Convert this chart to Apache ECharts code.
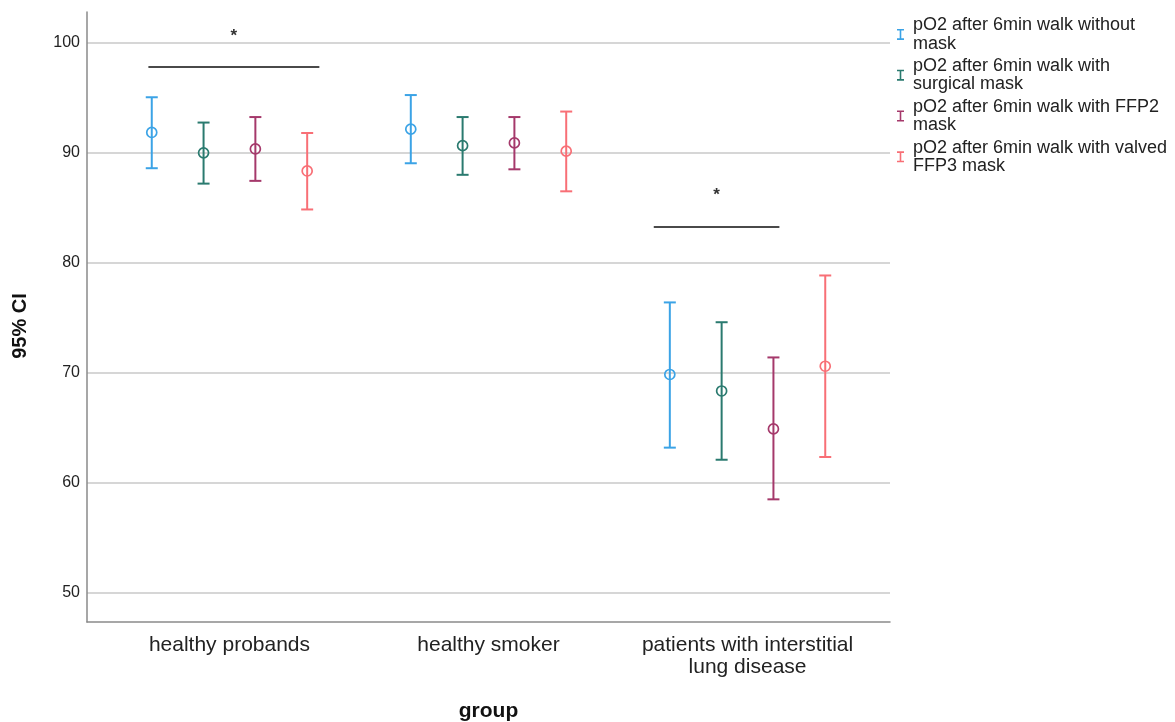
<!DOCTYPE html>
<html>
<head>
<meta charset="utf-8">
<script src="https://cdn.jsdelivr.net/npm/echarts@6/dist/echarts.min.js"></script>
<style>
html,body{margin:0;padding:0;background:#fff;}
#chart{width:1175px;height:722px;}
</style>
</head>
<body>
<div id="chart"></div>
<script>
// ---- data ----
const categories = ['healthy probands', 'healthy smoker', 'patients with interstitial\nlung disease'];
const seriesNames = [
  'pO2 after 6min walk without mask',
  'pO2 after 6min walk with surgical mask',
  'pO2 after 6min walk with FFP2 mask',
  'pO2 after 6min walk with valved FFP3 mask'
];
const legendLabels = [
  'pO2 after 6min walk without\nmask',
  'pO2 after 6min walk with\nsurgical mask',
  'pO2 after 6min walk with FFP2\nmask',
  'pO2 after 6min walk with valved\nFFP3 mask'
];
const yTicks = [50, 60, 70, 80, 90, 100];

const meanWithout  = [91.8, 92.1, 69.8];
const lowWithout   = [88.55, 89.0, 63.15];
const highWithout  = [95.0, 95.2, 76.35];

const meanSurgical = [89.95, 90.6, 68.3];
const lowSurgical  = [87.15, 87.95, 62.05];
const highSurgical = [92.7, 93.2, 74.55];

const meanFFP2     = [90.3, 90.85, 64.85];
const lowFFP2      = [87.4, 88.45, 58.45];
const highFFP2     = [93.2, 93.2, 71.35];

const meanFFP3     = [88.3, 90.1, 70.55];
const lowFFP3      = [84.8, 86.45, 62.3];
const highFFP3     = [91.75, 93.7, 78.8];

// significance brackets: [x from, x to, bracket value, star value]
const sigFrom  = [-0.313, 1.638];
const sigTo    = [0.347, 2.123];
const sigLine  = [97.75, 83.2];
const sigStar  = [100.55, 86.1];
const sigLabel = ['*', '*'];

// ---- build ----
const colors = ['#3ba3e6', '#2a7a6f', '#a5396b', '#f86f76'];
const means = [meanWithout, meanSurgical, meanFFP2, meanFFP3];
const lows  = [lowWithout, lowSurgical, lowFFP2, lowFFP3];
const highs = [highWithout, highSurgical, highFFP2, highFFP3];
const FONT = '"Liberation Sans", Arial, sans-serif';

function renderErrorBar(params, api) {
  const x = api.value(0);
  const lo = api.coord([x, api.value(1)]);
  const mid = api.coord([x, api.value(2)]);
  const hi = api.coord([x, api.value(3)]);
  const color = api.visual('color');
  const cap = 6;
  const st = {stroke: color, lineWidth: 2, fill: null};
  return {
    type: 'group',
    children: [
      {type: 'line', shape: {x1: lo[0], y1: lo[1], x2: hi[0], y2: hi[1]}, style: st},
      {type: 'line', shape: {x1: hi[0] - cap, y1: hi[1], x2: hi[0] + cap, y2: hi[1]}, style: st},
      {type: 'line', shape: {x1: lo[0] - cap, y1: lo[1], x2: lo[0] + cap, y2: lo[1]}, style: st},
      {type: 'circle', shape: {cx: mid[0], cy: mid[1], r: 5}, style: {stroke: color, lineWidth: 1.7, fill: null}}
    ]
  };
}

function renderBracket(params, api) {
  const a = api.coord([api.value(0), api.value(2)]);
  const b = api.coord([api.value(1), api.value(2)]);
  const s = api.coord([(api.value(0) + api.value(1)) / 2, api.value(3)]);
  return {
    type: 'group',
    children: [
      {type: 'line', shape: {x1: a[0], y1: a[1], x2: b[0], y2: b[1]}, style: {stroke: '#4a4a4a', lineWidth: 2}},
      {type: 'text', x: s[0], y: s[1], style: {text: sigLabel[params.dataIndex], fill: '#333', font: 'bold 17px ' + FONT, align: 'center', verticalAlign: 'middle'}}
    ]
  };
}

const series = seriesNames.map((name, i) => ({
  name: name,
  type: 'custom',
  renderItem: renderErrorBar,
  itemStyle: {color: colors[i]},
  encode: {x: 0, y: [1, 2, 3]},
  clip: false,
  z: 3,
  data: categories.map((c, g) => [g + (i - 1.5) * 0.2, lows[i][g], means[i][g], highs[i][g]])
}));
series.push({
  name: 'sig',
  type: 'custom',
  renderItem: renderBracket,
  encode: {x: [0, 1], y: [2, 3]},
  clip: false,
  silent: true,
  z: 4,
  data: sigFrom.map((f, k) => [f, sigTo[k], sigLine[k], sigStar[k]])
});

const chart = echarts.init(document.getElementById('chart'), null, {renderer: 'canvas'});
chart.setOption({
  animation: false,
  backgroundColor: '#fff',
  textStyle: {fontFamily: FONT},
  grid: {left: 87, right: 285, top: 12, bottom: 100, containLabel: false, outerBoundsMode: 'none'},
  legend: {
    orient: 'vertical',
    left: 897,
    top: 16,
    padding: 0,
    itemGap: 4.0,
    itemWidth: 7,
    itemHeight: 11,
    icon: 'path://M0,0H7V1.6H4.3V9.4H7V11H0V9.4H2.7V1.6H0Z',
    data: seriesNames,
    formatter: name => legendLabels[seriesNames.indexOf(name)],
    textStyle: {fontFamily: FONT, fontSize: 18, lineHeight: 18.4, color: '#222', padding: [0, 0, 0, 4]},
    selectedMode: false
  },
  xAxis: {
    type: 'value',
    min: -0.55,
    max: 2.55,
    name: 'group',
    nameLocation: 'middle',
    nameGap: 79,
    nameTextStyle: {fontFamily: FONT, fontSize: 21, fontWeight: 'bold', color: '#111'},
    axisLine: {show: true, onZero: false, lineStyle: {color: '#8a8a8a', width: 1.5}},
    axisTick: {show: false},
    splitLine: {show: false},
    axisLabel: {
      customValues: [0, 1, 2],
      formatter: v => categories[Math.round(v)] || '',
      fontFamily: FONT, fontSize: 21, lineHeight: 22, color: '#222', margin: 12
    }
  },
  yAxis: {
    type: 'value',
    min: 47.3,
    max: 102.75,
    minInterval: 10,
    maxInterval: 10,
    name: '95% CI',
    nameLocation: 'middle',
    nameRotate: 90,
    nameGap: 57,
    nameTextStyle: {fontFamily: FONT, fontSize: 20, fontWeight: 'bold', color: '#111', padding: [0, 18, 0, 0]},
    axisLine: {show: true, onZero: false, lineStyle: {color: '#8a8a8a', width: 1.5}},
    axisTick: {show: false, customValues: yTicks},
    splitLine: {show: true, showMinLine: true, showMaxLine: true, lineStyle: {color: '#c8c8c8', width: 1.6}},
    axisLabel: {customValues: yTicks, fontFamily: FONT, fontSize: 16, color: '#222', margin: 7}
  },
  series: series
});
</script>
</body>
</html>
